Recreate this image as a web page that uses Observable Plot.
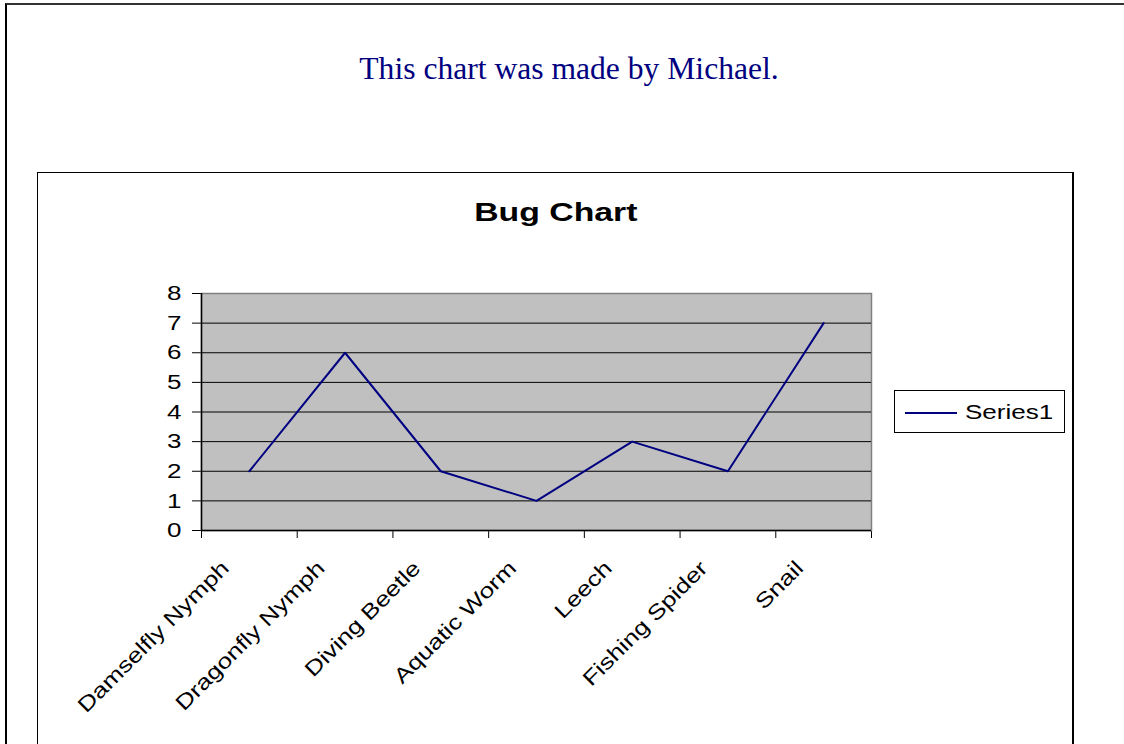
<!DOCTYPE html>
<html>
<head>
<meta charset="utf-8">
<script src="https://cdn.jsdelivr.net/npm/d3@7"></script>
<script src="https://cdn.jsdelivr.net/npm/@observablehq/plot@0.6"></script>
<style>
  html, body { margin: 0; padding: 0; background: #fff; width: 1124px; height: 744px; overflow: hidden; }
  #page { position: relative; width: 1124px; height: 744px; overflow: hidden; }
  #outer { position: absolute; left: 5px; top: 3px; width: 1200px; height: 800px; border-top: 2px solid #333; border-left: 2px solid #000; }
  #note { position: absolute; left: 0; width: 1138px; top: 51px; text-align: center; font-family: "Liberation Serif", "Times New Roman", serif; font-size: 31.6px; color: #000080; white-space: nowrap; }
  #box { position: absolute; left: 37px; top: 172px; width: 1034px; height: 600px; border-top: 1px solid #000; border-left: 1px solid #000; border-right: 2px solid #000; }
  #ctitle { position: absolute; left: 0; width: 1036px; top: 24px; text-align: center; font-family: "Liberation Sans", Arial, sans-serif; font-weight: bold; font-size: 26px; color: #000; }
  #ctitle span { display: inline-block; transform: scaleX(1.3); }
  #plotwrap { position: absolute; left: 0; top: 0; }
  #legend { position: absolute; left: 856px; top: 217px; width: 169px; height: 41px; border: 1px solid #000; background: #fff; }
  #legend .ln { position: absolute; left: 10px; top: 21px; width: 52px; height: 0; border-top: 2px solid #000080; }
  #legend .tx { position: absolute; left: 70px; top: 9px; font-family: "Liberation Sans", Arial, sans-serif; font-size: 21px; line-height: 24px; transform: scaleX(1.24); transform-origin: left center; white-space: nowrap; }
</style>
</head>
<body>
<div id="page">
  <div id="outer"></div>
  <div id="note">This chart was made by Michael.</div>
  <div id="box">
    <div id="ctitle"><span>Bug Chart</span></div>
    <div id="plotwrap"></div>
    <div id="legend"><div class="ln"></div><div class="tx">Series1</div></div>
  </div>
</div>
<script>
// Data
const categories = ["Damselfly Nymph", "Dragonfly Nymph", "Diving Beetle", "Aquatic Worm", "Leech", "Fishing Spider", "Snail"];
const values = [2, 6, 2, 1, 3, 2, 7];
const yTicks = [0, 1, 2, 3, 4, 5, 6, 7, 8];
const seriesName = "Series1";

const rows = categories.map((c, i) => ({cat: c, pos: i + 0.5, value: values[i]}));
const bounds = d3.range(categories.length + 1);

const chart = Plot.plot({
  width: 1034,
  height: 571,
  marginLeft: 163,
  marginRight: 201,
  marginTop: 120,
  marginBottom: 214,
  style: {fontFamily: "'Liberation Sans', Arial, sans-serif", fontSize: "21px", background: "transparent", color: "#000"},
  x: {type: "linear", domain: [0, categories.length], ticks: bounds, tickSize: 8, tickFormat: () => "", label: null},
  y: {domain: [0, 8], ticks: yTicks, tickSize: 9, tickPadding: 11, tickFormat: d => String(d), label: null},
  marks: [
    Plot.frame({fill: "#c0c0c0", stroke: "#808080", strokeWidth: 1.5}),
    Plot.ruleY(yTicks.slice(1, -1), {stroke: "#000", strokeWidth: 1}),
    Plot.ruleX([0], {stroke: "#000", strokeWidth: 1.5}),
    Plot.ruleY([0], {stroke: "#000", strokeWidth: 1.5}),
    Plot.line(rows, {x: "pos", y: "value", stroke: "#000080", strokeWidth: 2}),
    Plot.text(rows, {x: "pos", frameAnchor: "bottom", text: "cat", rotate: -45, textAnchor: "end", lineAnchor: "bottom", dx: -19, dy: 39, fill: "#000", fontSize: 21})
  ]
});

// Horizontal stretch of chart text (as in the reference rendering)
chart.querySelectorAll("text").forEach(t => {
  const tr = t.getAttribute("transform") || "";
  const xa = t.getAttribute("x"), ya = t.getAttribute("y");
  const num = v => v != null && /^-?[\d.]+$/.test(v.trim());
  let tx = 0, ty = 0;
  if (num(xa)) { tx = +xa; t.removeAttribute("x"); }
  if (num(ya)) { ty = +ya; t.removeAttribute("y"); }
  t.setAttribute("transform", `${tr} translate(${tx},${ty}) scale(1.24,1)`);
});
chart.querySelectorAll("g[aria-label='x-axis tick'] path, g[aria-label='y-axis tick'] path").forEach(p => p.setAttribute("stroke", "#000"));

document.getElementById("plotwrap").appendChild(chart);
</script>
</body>
</html>
